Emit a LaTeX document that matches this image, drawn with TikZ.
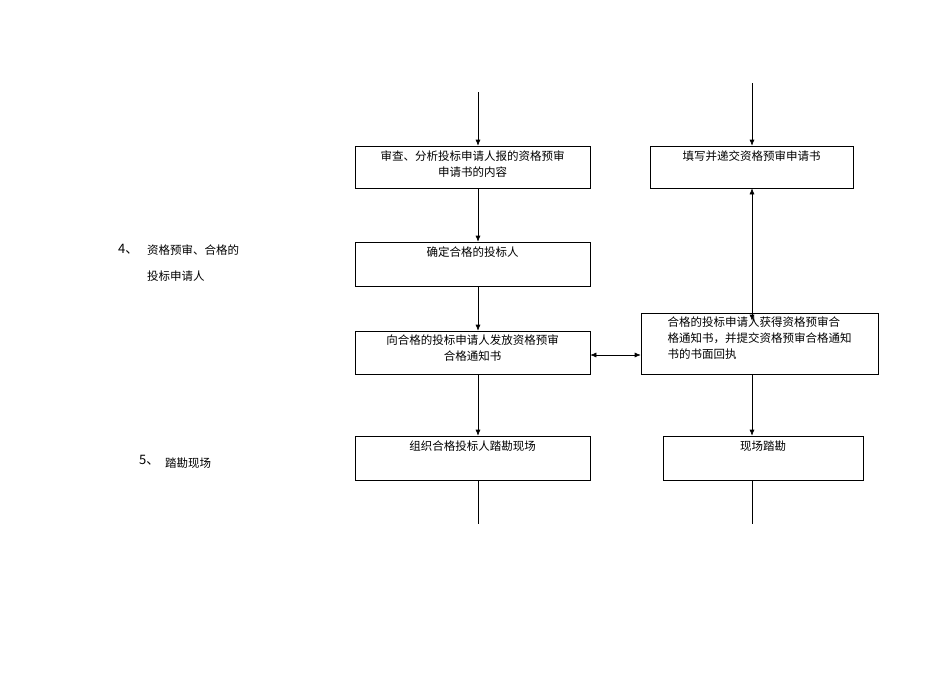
\documentclass[tikz,border=0pt]{standalone}
\usepackage{fontspec}
\newfontfamily\cjk{Noto Sans CJK SC}
\usetikzlibrary{arrows.meta}
\tikzset{
  box/.style={draw, semithick, inner sep=0pt},
  txt/.style={font=\cjk\fontsize{11.5}{16}\selectfont, align=center, inner sep=0pt, anchor=north},
  lbl/.style={font=\cjk\fontsize{11.5}{26}\selectfont, align=left, inner sep=0pt, anchor=north west},
  link/.style={semithick},
}
\begin{document}
\begin{tikzpicture}[x=1pt,y=-1pt,>={Latex[length=6pt,width=5pt]}]
  \useasboundingbox (0,0) rectangle (950,672);

	% left column
  \node[box, minimum width=235, minimum height=42] (b1) at (472.5,167) {};
  \node[txt] (t1) at ([yshift=-5pt]b1.north) {审查、分析投标申请人报的资格预审\\申请书的内容};
  \node[box, minimum width=235, minimum height=44] (b2) at (472.5,264) {};
  \node[txt] (t2) at ([yshift=-5pt]b2.north) {确定合格的投标人};
  \node[box, minimum width=235, minimum height=43] (b3) at (472.5,352.5) {};
  \node[txt] (t3) at ([yshift=-4pt]b3.north) {向合格的投标申请人发放资格预审\\合格通知书};
  \node[box, minimum width=235, minimum height=44] (b4) at (472.5,458) {};
  \node[txt] (t4) at ([yshift=-5pt]b4.north) {组织合格投标人踏勘现场};
  \coordinate (ltop) at (478,92);
  \coordinate (lbot) at (478,524);

	% right column
  \node[box, minimum width=203, minimum height=42] (r1) at (751.5,167) {};
  \node[txt] (u1) at ([yshift=-5pt]r1.north) {填写并递交资格预审申请书};
  \node[box, minimum width=237, minimum height=61] (r2) at (759.5,343.5) {};
  \node[txt, align=left] (u2) at ([yshift=-4pt]r2.north) {合格的投标申请人获得资格预审合\\格通知书，并提交资格预审合格通知\\书的书面回执};
  \node[box, minimum width=200, minimum height=44] (r3) at (763,458) {};
  \node[txt] (u3) at ([yshift=-5pt]r3.north) {现场踏勘};
  \coordinate (rtop) at (752,83);
  \coordinate (rbot) at (752,524);

	% connectors
  \draw[link,->] (ltop) -- (ltop |- b1.north);
  \draw[link,->] (b1.south -| ltop) -- (b2.north -| ltop);
  \draw[link,->] (b2.south -| ltop) -- (b3.north -| ltop);
  \draw[link,->] (b3.south -| ltop) -- (b4.north -| ltop);
  \draw[link] (b4.south -| lbot) -- (lbot);
  \draw[link,->] (rtop) -- (rtop |- r1.north);
  \draw[link,<->] (r1.south -| rtop) -- ([yshift=-8pt]r2.north -| rtop);
  \draw[link,->] (r2.south -| rtop) -- (r3.north -| rtop);
  \draw[link] (r3.south -| rbot) -- (rbot);
  \draw[link,<->] (b3.east |- 0,355) -- (r2.west |- 0,355);

	% step labels
  \node[lbl, font=\cjk\fontsize{13}{15}\selectfont] (n4) at (118,244) {4、};
  \node[lbl] (s4) at (147,245) {资格预审、合格的\\投标申请人};
  \node[lbl, font=\cjk\fontsize{13}{15}\selectfont] (n5) at (139,455) {5、};
  \node[lbl] (s5) at (165,458) {踏勘现场};
\end{tikzpicture}
\end{document}
